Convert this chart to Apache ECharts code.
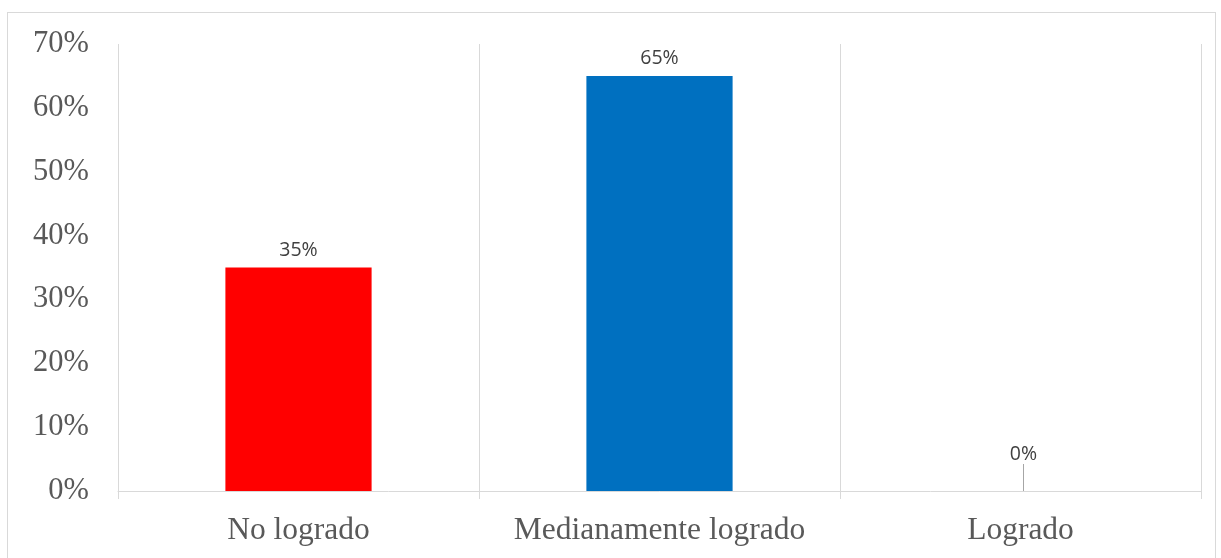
<!DOCTYPE html>
<html><head><meta charset="utf-8">
<script src="https://cdn.jsdelivr.net/npm/echarts@6/dist/echarts.min.js"></script>
<style>
html,body{margin:0;padding:0;background:#fff;}
#frame{position:absolute;left:7px;top:12px;width:1209px;height:560px;border:1px solid #d9d9d9;box-sizing:border-box;}
#chart{position:absolute;left:0;top:0;width:1221px;height:558px;}
</style></head>
<body>
<div id="frame"></div>
<div id="chart"></div>
<script>
const categories = ["No logrado", "Medianamente logrado", "Logrado"];
const values = [35, 65, 0];
const colors = ["#ff0000", "#0070c0", "#a5a5a5"];
const yTicks = [0, 10, 20, 30, 40, 50, 60, 70];

const chart = echarts.init(document.getElementById('chart'));
chart.setOption({
  animation: false,
  grid: {left: 118, right: 20, top: 44, bottom: 67},
  xAxis: {
    type: 'category', data: categories,
    axisLine: {lineStyle: {color: '#d9d9d9', width: 1}},
    axisTick: {show: true, length: 8, interval: 0, lineStyle: {color: '#d9d9d9'}},
    splitLine: {show: true, interval: 0, lineStyle: {color: '#d9d9d9'}},
    axisLabel: {interval: 0, hideOverlap: false, fontFamily: 'Liberation Serif', fontSize: 31.5, color: '#595959', margin: 24}
  },
  yAxis: {
    type: 'value', min: 0, max: 70, interval: 10,
    axisLine: {show: false}, axisTick: {show: false},
    splitLine: {show: false},
    axisLabel: {formatter: '{value}%', fontFamily: 'Liberation Serif', fontSize: 30.5, color: '#595959', margin: 29}
  },
  series: [{
    type: 'bar', barWidth: '40.5%',
    data: values.map((v, i) => ({value: v, itemStyle: {color: colors[i]},
      labelLine: i === 2 ? {show: true, lineStyle: {color: '#a6a6a6', width: 1}} : undefined})),
    label: {show: true, position: 'top', formatter: '{c}%', fontFamily: 'Open Sans', fontSize: 19.5, color: '#404040', distance: 7},
    labelLayout: function (p) { return p.dataIndex === 2 ? {dy: -20, dx: 3} : {}; },
    labelLine: {show: false}
  }]
});
</script>
</body></html>
